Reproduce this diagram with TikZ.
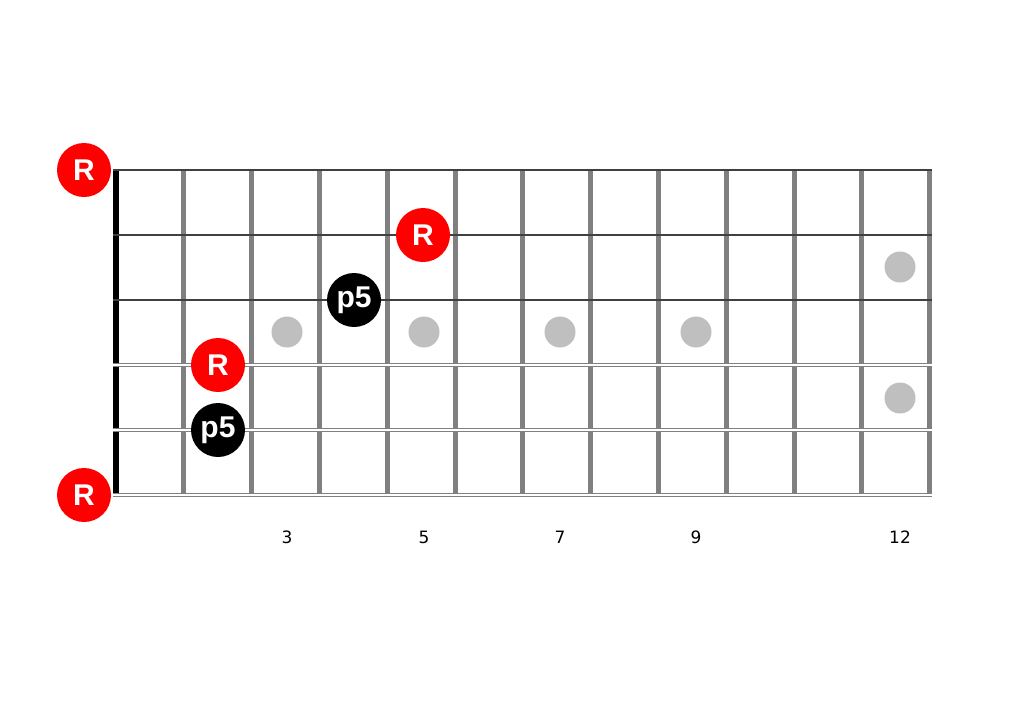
\documentclass[tikz,border=0pt]{standalone}
\usepackage{fontspec}
\setmainfont{Liberation Sans}
\newfontfamily\numfont{DejaVu Sans}
\usepackage{tikz}
\usetikzlibrary{positioning}

\tikzset{
  fretbar/.style={draw=gray, line width=5pt},
  nutbar/.style={draw=black, line width=6pt},
  plainstring/.style={draw=black!75, line width=1.2pt},
  woundstring/.style={draw=gray, double=white, double distance=2pt, line width=1pt},
  inlay/.style={circle, fill=gray!50, minimum size=31pt, inner sep=0pt},
  root/.style={circle, fill=red, text=white, minimum size=54pt, inner sep=0pt,
    font=\bfseries\fontsize{30}{30}\selectfont},
  fifth/.style={circle, fill=black, text=white, minimum size=54pt, inner sep=0pt,
    font=\bfseries\fontsize{30}{30}\selectfont},
  fretno/.style={font=\numfont\fontsize{17}{17}\selectfont}
}

\begin{document}
\begin{tikzpicture}[x=1pt,y=-1pt]
\useasboundingbox (0,0) rectangle (1024,724);
% frets and nut
\foreach \f in {1,...,12}
  \draw[fretbar] (116+67.8*\f,170) -- (116+67.8*\f,495);
\draw[nutbar] (116,170) -- (116,495);
% inlays
\node[inlay] (dot3) at (287,332) {};
\node[inlay] (dot5) at (424,332) {};
\node[inlay] (dot7) at (560,332) {};
\node[inlay] (dot9) at (696,332) {};
\node[inlay] (dot12a) at (900,267) {};
\node[inlay] (dot12b) at (900,398) {};
% strings
\foreach \s in {170,235,300}
  \draw[plainstring] (113,\s) -- (932,\s);
\foreach \s in {365,430,495}
  \draw[woundstring] (113,\s) -- (932,\s);
% fret numbers
\node[fretno] (num3) at (287,537) {3};
\node[fretno] (num5) at (424,537) {5};
\node[fretno] (num7) at (560,537) {7};
\node[fretno] (num9) at (696,537) {9};
\node[fretno] (num12) at (900,537) {12};
% notes
\node[root] (rootA) at (84,170) {R};
\node[root] (rootB) at (423,235) {R};
\node[fifth] (fifthA) at (354,300) {p5};
\node[root] (rootC) at (218,365) {R};
\node[fifth] (fifthB) at (218,430) {p5};
\node[root] (rootD) at (84,495) {R};
\end{tikzpicture}
\end{document}
